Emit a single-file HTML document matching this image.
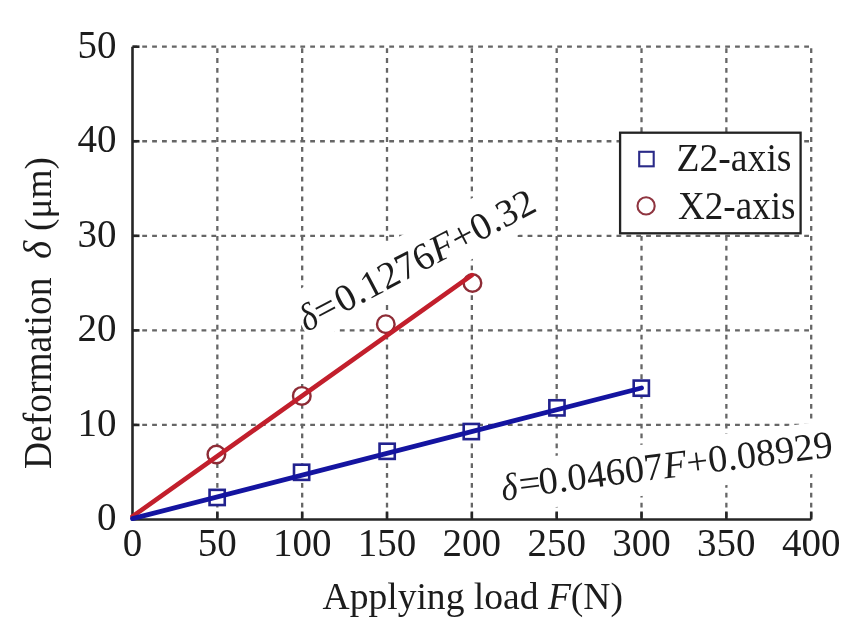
<!DOCTYPE html><html><head><meta charset="utf-8"><style>html,body{margin:0;padding:0;background:#fff;overflow:hidden;}svg{display:block;will-change:transform;filter:blur(0.45px);} text{font-family:"Liberation Serif",serif;fill:#1c1c1c;}</style></head><body>
<svg width="864" height="640" viewBox="0 0 864 640">
<rect width="864" height="640" fill="#fff"/>
<g stroke="#666" stroke-width="2.3" stroke-dasharray="4.8 5.08" stroke-dashoffset="8.38" fill="none"><line x1="217.34" y1="46.70" x2="217.34" y2="519.50"/><line x1="302.18" y1="46.70" x2="302.18" y2="519.50"/><line x1="387.01" y1="46.70" x2="387.01" y2="519.50"/><line x1="471.85" y1="46.70" x2="471.85" y2="519.50"/><line x1="556.69" y1="46.70" x2="556.69" y2="519.50"/><line x1="641.52" y1="46.70" x2="641.52" y2="519.50"/><line x1="726.36" y1="46.70" x2="726.36" y2="519.50"/><line x1="811.20" y1="46.70" x2="811.20" y2="519.50"/></g>
<g stroke="#666" stroke-width="2.3" stroke-dasharray="4.8 5.08" stroke-dashoffset="0.13" fill="none"><line x1="132.50" y1="424.94" x2="811.20" y2="424.94"/><line x1="132.50" y1="330.38" x2="811.20" y2="330.38"/><line x1="132.50" y1="235.82" x2="811.20" y2="235.82"/><line x1="132.50" y1="141.26" x2="811.20" y2="141.26"/><line x1="132.50" y1="46.70" x2="811.20" y2="46.70"/></g>
<g stroke="#262626" stroke-width="2.6" fill="none"><path d="M132.5,46.7 L132.5,519.5 L811.2,519.5" stroke-linejoin="round"/><line x1="217.34" y1="519.5" x2="217.34" y2="511.5"/><line x1="302.18" y1="519.5" x2="302.18" y2="511.5"/><line x1="387.01" y1="519.5" x2="387.01" y2="511.5"/><line x1="471.85" y1="519.5" x2="471.85" y2="511.5"/><line x1="556.69" y1="519.5" x2="556.69" y2="511.5"/><line x1="641.52" y1="519.5" x2="641.52" y2="511.5"/><line x1="726.36" y1="519.5" x2="726.36" y2="511.5"/><line x1="811.20" y1="519.5" x2="811.20" y2="511.5"/><line x1="132.5" y1="424.94" x2="139.5" y2="424.94"/><line x1="132.5" y1="330.38" x2="139.5" y2="330.38"/><line x1="132.5" y1="235.82" x2="139.5" y2="235.82"/><line x1="132.5" y1="141.26" x2="139.5" y2="141.26"/><line x1="132.5" y1="46.70" x2="139.5" y2="46.70"/></g>
<text x="132.50" y="556.1" text-anchor="middle" font-size="39">0</text><text x="217.34" y="556.1" text-anchor="middle" font-size="39">50</text><text x="302.18" y="556.1" text-anchor="middle" font-size="39">100</text><text x="387.01" y="556.1" text-anchor="middle" font-size="39">150</text><text x="471.85" y="556.1" text-anchor="middle" font-size="39">200</text><text x="556.69" y="556.1" text-anchor="middle" font-size="39">250</text><text x="641.52" y="556.1" text-anchor="middle" font-size="39">300</text><text x="726.36" y="556.1" text-anchor="middle" font-size="39">350</text><text x="811.20" y="556.1" text-anchor="middle" font-size="39">400</text><text x="116.4" y="530.40" text-anchor="end" font-size="39">0</text><text x="116.4" y="435.84" text-anchor="end" font-size="39">10</text><text x="116.4" y="341.28" text-anchor="end" font-size="39">20</text><text x="116.4" y="246.72" text-anchor="end" font-size="39">30</text><text x="116.4" y="152.16" text-anchor="end" font-size="39">40</text><text x="116.4" y="57.60" text-anchor="end" font-size="39">50</text>
<text x="322.5" y="609.1" font-size="38.8" textLength="300.5" lengthAdjust="spacingAndGlyphs">Applying load <tspan font-style="italic">F</tspan>(N)</text>
<g transform="translate(50.8,469) rotate(-90)"><text x="0" y="0" font-size="39" textLength="191.5" lengthAdjust="spacingAndGlyphs">Deformation</text><text x="210" y="0" font-size="39" font-style="italic">δ</text><text x="238" y="0" font-size="38" textLength="74" lengthAdjust="spacingAndGlyphs">(μm)</text></g>
<circle cx="216.4" cy="454.5" r="8.8" fill="#fff" stroke="#8e2c36" stroke-width="2.4"/><circle cx="301.8" cy="395.9" r="8.8" fill="#fff" stroke="#8e2c36" stroke-width="2.4"/><circle cx="385.8" cy="324.2" r="8.8" fill="#fff" stroke="#8e2c36" stroke-width="2.4"/><circle cx="472.45" cy="283.0" r="8.8" fill="#fff" stroke="#8e2c36" stroke-width="2.4"/><rect x="209.55" y="489.85" width="15.2" height="15.2" fill="#fff" stroke="#22228e" stroke-width="2.6"/><rect x="294.00" y="464.70" width="15.2" height="15.2" fill="#fff" stroke="#22228e" stroke-width="2.6"/><rect x="379.55" y="443.70" width="15.2" height="15.2" fill="#fff" stroke="#22228e" stroke-width="2.6"/><rect x="463.70" y="423.95" width="15.2" height="15.2" fill="#fff" stroke="#22228e" stroke-width="2.6"/><rect x="549.35" y="400.25" width="15.2" height="15.2" fill="#fff" stroke="#22228e" stroke-width="2.6"/><rect x="633.70" y="380.55" width="15.2" height="15.2" fill="#fff" stroke="#22228e" stroke-width="2.6"/>
<line x1="132.50" y1="516.47" x2="471.85" y2="275.16" stroke="#c21f2c" stroke-width="4.6" stroke-linecap="round"/>
<line x1="132.50" y1="518.66" x2="641.52" y2="387.96" stroke="#1414a0" stroke-width="4.8" stroke-linecap="round"/>
<g transform="translate(342.68,313.38) rotate(-27.8)"><rect x="-42" y="-41.6" width="270" height="54.0" fill="#fff"/><text transform="translate(-40.5,0) scale(0.9,1)" x="0" y="0" font-size="38.3" font-style="italic">δ</text><text x="-23.7" y="0" font-size="38.3">=</text><text x="0" y="0" font-size="38.3" letter-spacing="0.35">0.1276<tspan font-style="italic">F</tspan>+0.32</text></g>
<g transform="translate(540.29,494.45) rotate(-7.35)"><rect x="-43" y="-36.3" width="343" height="50.8" fill="#fff"/><text transform="translate(-38,1.5) scale(0.9,1)" x="0" y="0" font-size="38.4" font-style="italic">δ</text><text x="-20" y="0" font-size="38.4">=</text><text x="0" y="0" font-size="38.4" letter-spacing="0.1">0.04607<tspan font-style="italic">F</tspan>+0.08929</text></g>
<rect x="620.1" y="132.7" width="180.5" height="100.6" fill="#fff" stroke="#222" stroke-width="2.3"/>
<rect x="639.2" y="151.8" width="14.5" height="14.5" fill="none" stroke="#2a2a88" stroke-width="2.1"/>
<circle cx="646.1" cy="205.9" r="8.6" fill="none" stroke="#8f3540" stroke-width="2.1"/>
<text x="676.5" y="171.3" font-size="39" textLength="115" lengthAdjust="spacingAndGlyphs">Z2-axis</text>
<text x="678" y="218.6" font-size="39" textLength="117.5" lengthAdjust="spacingAndGlyphs">X2-axis</text>
</svg></body></html>
